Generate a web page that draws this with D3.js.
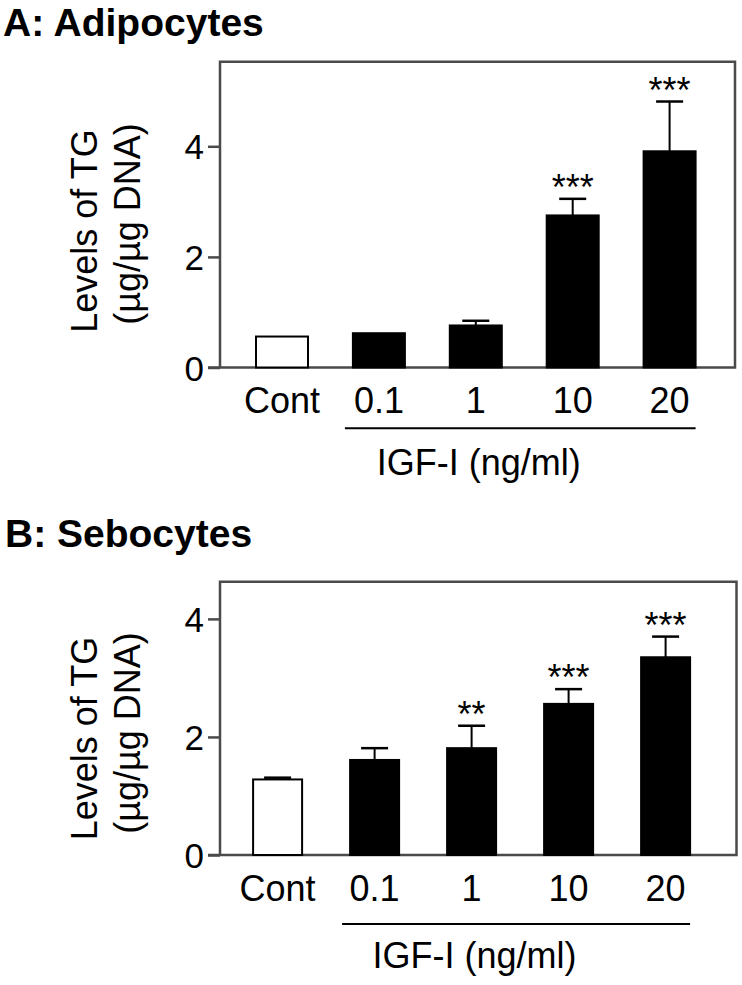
<!DOCTYPE html>
<html>
<head>
<meta charset="utf-8">
<script src="https://cdn.jsdelivr.net/npm/d3@7"></script>
<style>
  html, body { margin: 0; padding: 0; background: #fff; }
  svg { display: block; }
  text { font-family: "Liberation Sans", Arial, Helvetica, sans-serif; fill: #000; }
</style>
</head>
<body>
<svg id="chart" width="742" height="985"></svg>
<script>
// ---- data ----
const categories = ["Cont", "0.1", "1", "10", "20"];
const yTickValues = [0, 2, 4];

const titleA = "A: Adipocytes";
const valuesA = [0.56, 0.62, 0.76, 2.75, 3.91];
const errorsA = [0, 0, 0.085, 0.30, 0.90];
const sigA = ["", "", "", "***", "***"];

const titleB = "B: Sebocytes";
const valuesB = [1.28, 1.61, 1.81, 2.56, 3.35];
const errorsB = [0.03, 0.20, 0.38, 0.25, 0.35];
const sigB = ["", "", "**", "***", "***"];

const yTitle1 = "Levels of TG";
const yTitle2 = "(\u00b5g/\u00b5g DNA)";
const xTitle = "IGF-I (ng/ml)";

// ---- drawing ----
const svg = d3.select("#chart");
const FRAME = "#4a4a4a";

function panel(o) {
  const g = svg.append("g");
  const y = d3.scaleLinear().domain([0, o.yMax]).range([o.bottom, o.top]);
  const step = o.step;
  const x = d3.scaleBand().domain(categories)
    .range([o.c0 - step / 2, o.c0 - step / 2 + step * categories.length])
    .paddingInner(1 - o.bw / step).paddingOuter((1 - o.bw / step) / 2);
  const bw = x.bandwidth();

  // title
  g.append("text").attr("x", o.titleX).attr("y", o.titleY)
    .attr("font-size", 39).attr("font-weight", "bold").text(o.title);

  // frame (top, right, bottom) + left axis
  g.append("path")
    .attr("d", `M${o.left},${o.bottom}V${o.top}H${o.right}V${o.bottom}H${o.left - 12}`)
    .attr("fill", "none").attr("stroke", FRAME).attr("stroke-width", 2.5);

  const yAxis = g.append("g").attr("transform", `translate(${o.left},0)`)
    .call(d3.axisLeft(y).tickValues(yTickValues).tickSize(12).tickPadding(4).tickFormat(d3.format("d")));
  yAxis.select(".domain").remove();
  yAxis.selectAll(".tick line").attr("stroke", FRAME).attr("stroke-width", 2.5);
  yAxis.selectAll(".tick text").attr("font-size", 35).attr("font-family", null)
    .attr("fill", "#000").attr("dy", "0.36em");
  yAxis.attr("font-family", null);

  // bars
  const data = categories.map((c, i) => ({ c, v: o.values[i], e: o.errors[i], s: o.sig[i], i }));
  g.selectAll("rect.bar").data(data).join("rect").attr("class", "bar")
    .attr("x", d => x(d.c)).attr("width", bw)
    .attr("y", d => y(d.v)).attr("height", d => y(0) - y(d.v))
    .attr("fill", d => d.i === 0 ? "#fff" : "#000")
    .attr("stroke", "#000").attr("stroke-width", 2);

  // error bars (upper only)
  const eb = data.filter(d => d.e > 0);
  const cx = d => x(d.c) + bw / 2;
  g.selectAll("line.ev").data(eb).join("line").attr("class", "ev")
    .attr("x1", cx).attr("x2", cx)
    .attr("y1", d => y(d.v)).attr("y2", d => y(d.v + d.e))
    .attr("stroke", "#000").attr("stroke-width", 2);
  g.selectAll("line.ec").data(eb).join("line").attr("class", "ec")
    .attr("x1", d => cx(d) - 13.5).attr("x2", d => cx(d) + 13.5)
    .attr("y1", d => y(d.v + d.e)).attr("y2", d => y(d.v + d.e))
    .attr("stroke", "#000").attr("stroke-width", 2.5);

  // significance
  g.selectAll("text.sig").data(data.filter(d => d.s)).join("text").attr("class", "sig")
    .attr("x", cx).attr("y", d => y(d.v + d.e) - 20 + 21)
    .attr("text-anchor", "middle").attr("font-size", 36).text(d => d.s);

  // category labels
  g.selectAll("text.cat").data(data).join("text").attr("class", "cat")
    .attr("x", cx).attr("y", o.catY)
    .attr("text-anchor", "middle").attr("font-size", 36).text(d => d.c);

  // treatment underline
  g.append("line")
    .attr("x1", x("0.1") - 8).attr("x2", x("20") + bw)
    .attr("y1", o.lineY).attr("y2", o.lineY)
    .attr("stroke", "#000").attr("stroke-width", 2);
  g.append("text").attr("x", x("1") + bw / 2 + 3).attr("y", o.xTitleY)
    .attr("text-anchor", "middle").attr("font-size", 36).text(xTitle);

  // y title
  g.append("text").attr("transform", `translate(97,${o.yt1})rotate(-90)`)
    .attr("text-anchor", "middle").attr("font-size", 36).text(yTitle1);
  g.append("text").attr("transform", `translate(140,${o.yt2})rotate(-90)`)
    .attr("text-anchor", "middle").attr("font-size", 36).text(yTitle2);
}

panel({
  title: titleA, titleX: 3, titleY: 36,
  values: valuesA, errors: errorsA, sig: sigA,
  left: 220, right: 735, top: 61.7, bottom: 367.5, yMax: 5.53,
  c0: 282, step: 96.9, bw: 52,
  catY: 413, lineY: 428.3, xTitleY: 475, yt1: 231, yt2: 224
});

panel({
  title: titleB, titleX: 5, titleY: 547,
  values: valuesB, errors: errorsB, sig: sigB,
  left: 220, right: 736.5, top: 581.7, bottom: 855, yMax: 4.63,
  c0: 277.6, step: 97, bw: 49,
  catY: 901, lineY: 924, xTitleY: 968, yt1: 738.5, yt2: 733
});
</script>
</body>
</html>
